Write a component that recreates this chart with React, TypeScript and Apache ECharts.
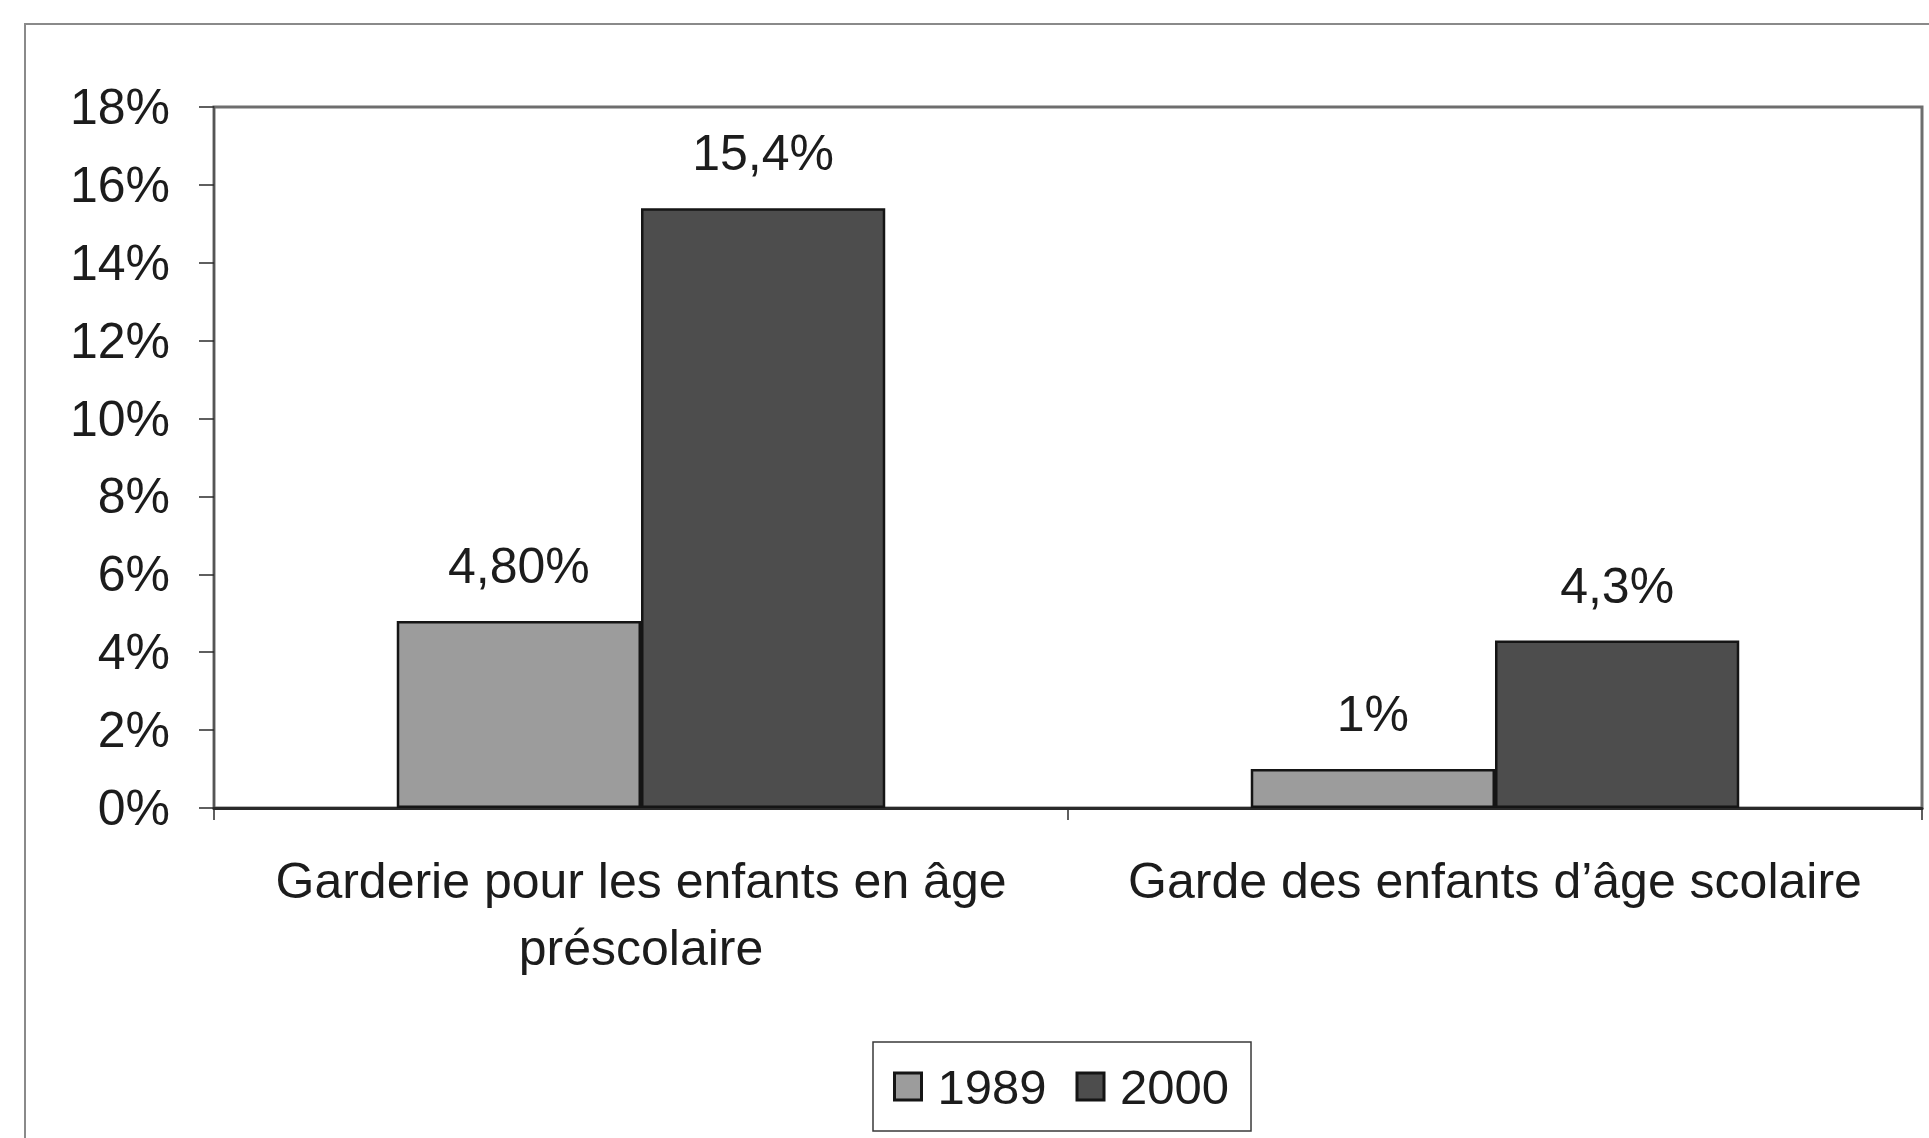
import React, { useEffect, useRef } from "react";
import * as echarts from "echarts";

const categories = ["Garderie pour les enfants en âge\npréscolaire", "Garde des enfants d’âge scolaire"];
const seriesNames = ["1989", "2000"];
const values1989 = [4.8, 1];
const values2000 = [15.4, 4.3];
const labels1989 = ["4,80%", "1%"];
const labels2000 = ["15,4%", "4,3%"];
const yMin = 0;
const yMax = 18;
const yStep = 2;

const FONT = "'Liberation Sans', Arial, Helvetica, sans-serif";
const TEXT = "#1c1c1c";

export default function App() {
  const ref = useRef<HTMLDivElement>(null);

  useEffect(() => {
    if (!ref.current) return;
    const chart = echarts.init(ref.current, null, { renderer: "svg" });
    const barStyle = (color: string) => ({
      color,
      borderColor: "#151515",
      borderWidth: 2.5,
    });
    const labelStyle = (texts: string[]) => ({
      show: true,
      position: "top" as const,
      distance: 30,
      fontSize: 50,
      fontFamily: FONT,
      color: TEXT,
      formatter: (p: any) => texts[p.dataIndex],
    });
    chart.setOption({
      animation: false,
      backgroundColor: "#ffffff",
      textStyle: { fontFamily: FONT },
      graphic: [
        {
          type: "rect",
          shape: { x: 25, y: 24, width: 1940, height: 1150 },
          style: { fill: "none", stroke: "#8a8a8a", lineWidth: 2 },
          silent: true,
          z: -10,
        },
      ],
      grid: {
        left: 214,
        right: 7,
        top: 107,
        bottom: 330,
        show: true,
        borderColor: "#6e6e6e",
        borderWidth: 3,
        backgroundColor: "transparent",
      },
      legend: {
        left: 873,
        top: 1042,
        orient: "horizontal",
        data: seriesNames,
        icon: "rect",
        itemWidth: 27,
        itemHeight: 27,
        itemGap: 29,
        padding: [20, 22, 20, 20],
        borderColor: "#3a3a3a",
        borderWidth: 1.5,
        itemStyle: { borderColor: "#151515", borderWidth: 3 },
        textStyle: {
          fontSize: 49,
          fontFamily: FONT,
          color: TEXT,
          padding: [0, 0, 0, 11],
        },
      },
      xAxis: {
        type: "category",
        data: categories,
        axisLine: { show: true, lineStyle: { color: "#2a2a2a", width: 3 } },
        axisTick: { show: true, length: 12, lineStyle: { color: "#2a2a2a", width: 1.5 } },
        axisLabel: {
          fontSize: 50,
          lineHeight: 67,
          fontFamily: FONT,
          color: TEXT,
          margin: 39,
          interval: 0,
        },
        splitLine: { show: false },
      },
      yAxis: {
        type: "value",
        min: yMin,
        max: yMax,
        interval: yStep,
        axisLine: { show: true, lineStyle: { color: "#555555", width: 2 } },
        axisTick: { show: true, inside: false, length: 15, lineStyle: { color: "#2a2a2a", width: 1.5 } },
        axisLabel: {
          fontSize: 50,
          fontFamily: FONT,
          color: TEXT,
          margin: 44,
          formatter: (v: number) => `${v}%`,
        },
        splitLine: { show: false },
      },
      series: [
        {
          name: seriesNames[0],
          type: "bar",
          data: values1989,
          barGap: "0%",
          barCategoryGap: "42.8%",
          itemStyle: barStyle("#9c9c9c"),
          label: labelStyle(labels1989),
        },
        {
          name: seriesNames[1],
          type: "bar",
          data: values2000,
          barGap: "0%",
          barCategoryGap: "42.8%",
          itemStyle: barStyle("#4d4d4d"),
          label: labelStyle(labels2000),
        },
      ],
    });
    return () => chart.dispose();
  }, []);

  return (
    <div
      ref={ref}
      style={{ position: "fixed", left: 0, top: 0, width: 1929, height: 1138, background: "#fff" }}
    />
  );
}
